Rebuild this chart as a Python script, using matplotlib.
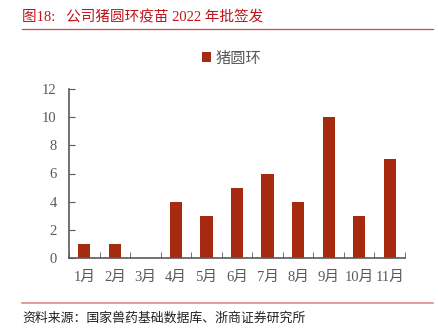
import matplotlib.pyplot as plt
from matplotlib.lines import Line2D
import numpy as np

plt.rcParams['font.family'] = ['Liberation Serif', 'Noto Sans CJK SC', 'DejaVu Sans']

mois = ['1月', '2月', '3月', '4月', '5月', '6月', '7月', '8月', '9月', '10月', '11月']
lots = [1, 1, 0, 4, 3, 5, 6, 4, 10, 3, 7]
yticks = [0, 2, 4, 6, 8, 10, 12]

rouge = '#A52A0F'
gris_axe = '#595959'
gris_texte = '#595959'

fig = plt.figure(figsize=(4.38, 3.34), dpi=100)
ax = fig.add_axes([69 / 438, 1 - 258 / 334, 336 / 438, 169 / 334])

x = np.arange(len(mois))
ax.bar(x, lots, width=0.4, color=rouge, label='猪圆环', zorder=2)

ax.set_xlim(-0.5, len(mois) - 0.5)
ax.set_ylim(0, 12)
ax.set_yticks(yticks)
ax.set_xticks(x)
ax.set_xticklabels(mois, fontsize=10.5, color=gris_texte)
ax.tick_params(axis='x', length=0, pad=9)
ax.tick_params(axis='y', direction='in', length=4, color=gris_axe, labelsize=10.5,
               labelcolor=gris_texte, pad=9)
# petits traits entre les categories
ax.set_xticks(np.arange(len(mois) + 1) - 0.5, minor=True)
ax.tick_params(axis='x', which='minor', direction='in', length=4, color=gris_axe)

for cote in ['top', 'right']:
    ax.spines[cote].set_visible(False)
for cote in ['left', 'bottom']:
    ax.spines[cote].set_color(gris_axe)
    ax.spines[cote].set_linewidth(1.2)

leg = fig.legend(loc='center', bbox_to_anchor=(232 / 438, 1 - 58 / 334), frameon=False,
                 handlelength=0.6, handleheight=0.6, handletextpad=0.3,
                 prop={'family': 'Noto Sans CJK SC', 'size': 11})
for t in leg.get_texts():
    t.set_color(gris_texte)

fig.text(22 / 438, 1 - 17 / 334, '图18:   公司猪圆环疫苗 2022 年批签发', color='#C0141C',
         fontsize=10.5, va='center', ha='left')
fig.add_artist(Line2D([22 / 438, 433 / 438], [1 - 29 / 334] * 2, color='#D9424A', lw=0.9))
fig.add_artist(Line2D([22 / 438, 433 / 438], [1 - 303 / 334] * 2, color='#E08A8A', lw=1.2))
fig.text(22 / 438, 1 - 318 / 334, '资料来源：国家兽药基础数据库、浙商证券研究所', color='#222222',
         fontsize=9.3, va='center', ha='left')

fig.savefig('out.png', dpi=100)
